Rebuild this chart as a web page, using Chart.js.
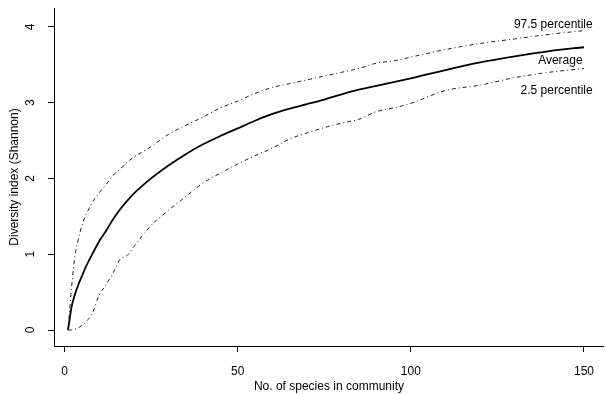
<!DOCTYPE html>
<html>
<head>
<meta charset="utf-8">
<script src="https://cdn.jsdelivr.net/npm/chart.js@4"></script>
<style>
  html, body { margin: 0; padding: 0; background: #fff; }
  #wrap { width: 606px; height: 394px; }
</style>
</head>
<body>
<div id="wrap"><canvas id="diversity-graph"></canvas></div>
<script>
/**
 * Data
 */
const species = [1, 2, 3, 4, 5, 6, 8, 10, 12, 14, 16, 18, 20, 25, 30, 35, 40, 45, 50, 55, 60, 65, 70, 75, 80, 85, 90, 95, 100, 110, 120, 130, 140, 150];
const average = [0, 0.30, 0.47, 0.60, 0.71, 0.82, 1.00, 1.17, 1.31, 1.46, 1.59, 1.70, 1.80, 2.00, 2.17, 2.32, 2.45, 2.56, 2.66, 2.76, 2.85, 2.92, 2.98, 3.04, 3.11, 3.17, 3.22, 3.27, 3.32, 3.43, 3.53, 3.61, 3.68, 3.73];
const upper = [0, 0.55, 0.98, 1.20, 1.38, 1.50, 1.68, 1.81, 1.92, 2.04, 2.12, 2.21, 2.28, 2.42, 2.58, 2.70, 2.81, 2.93, 3.02, 3.12, 3.20, 3.25, 3.30, 3.35, 3.40, 3.45, 3.52, 3.55, 3.60, 3.70, 3.78, 3.84, 3.90, 3.95];
const lower = [0, 0, 0.01, 0.03, 0.06, 0.10, 0.22, 0.46, 0.60, 0.75, 0.93, 0.98, 1.10, 1.38, 1.58, 1.76, 1.94, 2.07, 2.19, 2.30, 2.40, 2.52, 2.60, 2.67, 2.73, 2.78, 2.88, 2.93, 2.99, 3.16, 3.23, 3.33, 3.40, 3.45];

const xTicks = [0, 50, 100, 150];
const yTicks = [0, 1, 2, 3, 4];

// curve labels: [text, x value of right edge, y value]
const curveLabels = [
    ['97.5 percentile', 152.5, 4.03],
    ['Average', 149.6, 3.55],
    ['2.5 percentile', 152.5, 3.16]
];

const FONT = '"Liberation Sans", Arial, Helvetica, sans-serif';

const toPoints = (ys) => species.map((s, i) => ({x: s, y: ys[i]}));

//rotated y tick labels and curve labels
const textPlugin = {
    id: 'textPlugin',
    afterDraw(chart) {
        const ctx = chart.ctx;
        const xs = chart.scales.x;
        const ys = chart.scales.y;
        ctx.save();
        ctx.fillStyle = '#000';
        ctx.font = '12px ' + FONT;
        ctx.textAlign = 'center';
        ctx.textBaseline = 'middle';
        yTicks.forEach(v => {
            ctx.save();
            ctx.translate(31, ys.getPixelForValue(v));
            ctx.rotate(-Math.PI / 2);
            ctx.fillText(String(v), 0, 0);
            ctx.restore();
        });
        ctx.textAlign = 'right';
        curveLabels.forEach(([text, x, y]) => {
            ctx.fillText(text, xs.getPixelForValue(x), ys.getPixelForValue(y));
        });
        ctx.restore();
    }
};

let diversityConfig = {
    type: 'scatter',
    data: {
        datasets: [
            {
                label: '97.5 percentile',
                data: toPoints(upper),
                showLine: true,
                borderColor: '#222',
                borderWidth: 1,
                borderDash: [4, 3, 1, 3],
                pointRadius: 0,
                cubicInterpolationMode: 'monotone'
            },
            {
                label: 'Average',
                data: toPoints(average),
                showLine: true,
                borderColor: '#000',
                borderWidth: 1.8,
                pointRadius: 0,
                cubicInterpolationMode: 'monotone'
            },
            {
                label: '2.5 percentile',
                data: toPoints(lower),
                showLine: true,
                borderColor: '#222',
                borderWidth: 1,
                borderDash: [4, 3, 1, 3],
                pointRadius: 0,
                cubicInterpolationMode: 'monotone'
            }
        ]
    },
    options: {
        responsive: true,
        maintainAspectRatio: false,
        animation: false,
        layout: {
            padding: {top: 8, right: 0, bottom: 0, left: 0}
        },
        plugins: {
            legend: {display: false},
            tooltip: {enabled: false}
        },
        scales: {
            x: {
                type: 'linear',
                min: -3.05,
                max: 155.75,
                afterBuildTicks: (scale) => { scale.ticks = xTicks.map(v => ({value: v})); },
                afterFit: (scale) => { scale.height = 48; },
                grid: {
                    display: true,
                    drawOnChartArea: false,
                    drawTicks: true,
                    tickLength: 6,
                    color: '#000'
                },
                border: {display: true, color: '#000', width: 1},
                ticks: {
                    color: '#000',
                    padding: 12,
                    maxRotation: 0,
                    font: {family: FONT, size: 12}
                },
                title: {
                    display: true,
                    text: 'No. of species in community',
                    color: '#000',
                    padding: {top: 0, bottom: 0},
                    font: {family: FONT, size: 12}
                }
            },
            y: {
                type: 'linear',
                min: -0.211,
                max: 4.248,
                afterBuildTicks: (scale) => { scale.ticks = yTicks.map(v => ({value: v})); },
                afterFit: (scale) => { scale.width = 54; },
                grid: {
                    display: true,
                    drawOnChartArea: false,
                    drawTicks: true,
                    tickLength: 6,
                    color: '#000'
                },
                border: {display: true, color: '#000', width: 1},
                ticks: {display: false},
                title: {
                    display: true,
                    text: 'Diversity index (Shannon)',
                    color: '#000',
                    padding: {top: 7, bottom: 0},
                    font: {family: FONT, size: 12}
                }
            }
        }
    },
    plugins: [textPlugin]
};

const diversityChart = new Chart(
    document.getElementById('diversity-graph'),
    diversityConfig
);
</script>
</body>
</html>
